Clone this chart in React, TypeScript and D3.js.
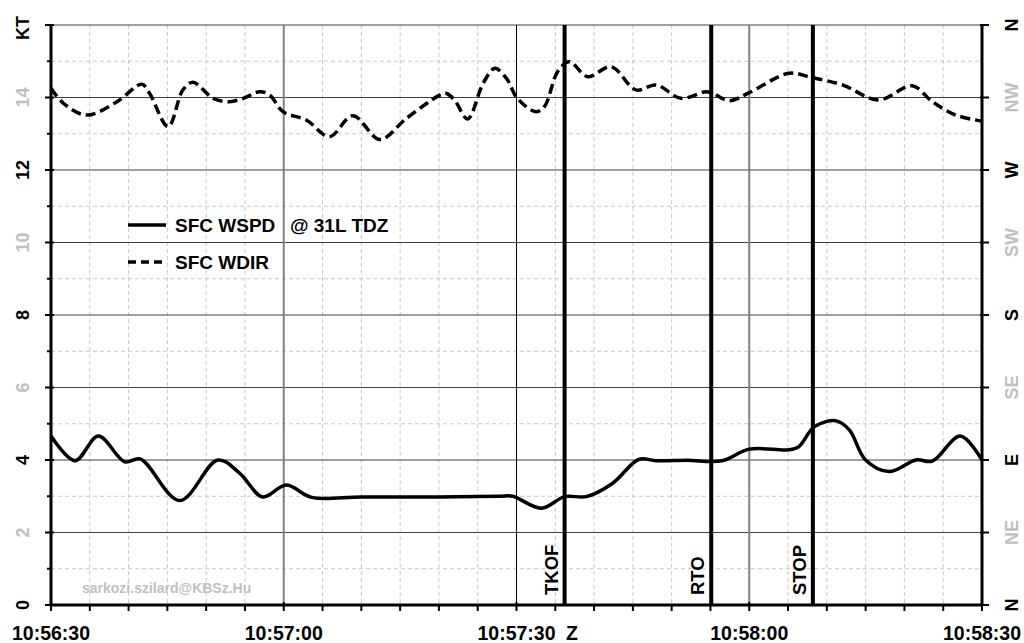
import React from 'react'
import { scaleLinear, line, curveCatmullRom, range } from 'd3'

// seconds after 10:56:30
const speedTimes = [0, 3.1, 6.1, 9.5, 11.5, 16.6, 21.5, 24.3, 27.3, 30.3, 33.6, 40, 50, 57.8, 59.5, 63.2, 66.2, 69, 72.4, 75.8, 78, 82, 86.5, 90, 95.1, 96.4, 98.4, 101.2, 102.9, 105, 108, 111.5, 113.6, 117.2, 120]
const speedKt = [4.66, 3.98, 4.66, 3.95, 4.03, 2.88, 4.0, 3.64, 2.98, 3.31, 2.97, 2.98, 2.98, 3.0, 3.0, 2.67, 2.99, 2.99, 3.36, 4.02, 3.98, 3.99, 3.98, 4.3, 4.28, 4.37, 4.92, 5.08, 4.83, 4.0, 3.68, 4.0, 3.97, 4.66, 4.0]

const dirTimes = [0, 1.6, 4.6, 8.5, 11.7, 12.7, 15.1, 17, 18.3, 20.9, 23, 24.8, 26.9, 28.2, 29.9, 32.9, 35.9, 38.9, 42.4, 45.8, 50.1, 50.9, 52, 53.7, 55.7, 57.2, 58.7, 60.1, 62.5, 63.6, 65.3, 66.8, 69.2, 72.2, 75.4, 78, 81.2, 84.4, 85.3, 87.4, 90, 95.1, 98.1, 102, 106.7, 111, 113.6, 116.6, 120]
const dirDeg = [320.7, 311.4, 304.1, 312.4, 323.2, 317.6, 296.9, 319.7, 324.4, 314.5, 312.4, 314.5, 318.6, 316.5, 306.2, 301, 290.7, 303.7, 289, 302, 316.5, 317.6, 313.5, 301.7, 323.8, 333.1, 326.9, 314.5, 306.2, 309.3, 331, 337.2, 327.9, 334.1, 319.7, 322.8, 314.5, 318.6, 317.6, 313, 318, 330, 327.3, 322.8, 313.5, 322.3, 312.4, 304.1, 300.4]

const timeLabels = ['10:56:30', '10:57:00', '10:57:30', '10:58:00', '10:58:30']
const ktLabels = ['0', '2', '4', '6', '8', '10', '12', '14']
const dirLabels = ['N', 'NE', 'E', 'SE', 'S', 'SW', 'W', 'NW', 'N']

const eventNames = ['TKOF', 'RTO', 'STOP']
const eventTimes = [66.2, 85.1, 98.2]

const W = 1024
const H = 643
const left = 51
const right = 982
const top = 25
const bottom = 605
const font = 'Liberation Sans, Arial, sans-serif'

export default function App() {
  const x = scaleLinear().domain([0, 120]).range([left, right])
  const y = scaleLinear().domain([0, 16]).range([bottom, top])
  const yDir = scaleLinear().domain([0, 360]).range([bottom, top])

  const speedLine = line<number>()
    .x((_, i) => x(speedTimes[i]))
    .y(d => y(d))
    .curve(curveCatmullRom.alpha(0.5))
  const dirLine = line<number>()
    .x((_, i) => x(dirTimes[i]))
    .y(d => yDir(d))
    .curve(curveCatmullRom.alpha(0.5))

  const minorX = range(0, 121, 5)
  const majorX = [0, 30, 60, 90, 120]
  const ktTicks = range(0, 17, 1)

  return (
    <svg width={W} height={H} style={{ position: 'fixed', left: 0, top: 0, background: '#fff' }} fontFamily={font}>
      <rect width={W} height={H} fill="#fff" />

      {/* minor grid */}
      {minorX.filter(t => t % 30 !== 0).map(t => (
        <line key={'vx' + t} x1={x(t)} x2={x(t)} y1={top} y2={bottom} stroke="#c8c8c8" strokeDasharray="4,3" />
      ))}
      {ktTicks.filter(k => k % 2 === 1).map(k => (
        <line key={'hy' + k} x1={left} x2={right} y1={y(k)} y2={y(k)} stroke="#c8c8c8" strokeDasharray="4,3" />
      ))}
      {/* major grid */}
      {ktTicks.filter(k => k % 2 === 0 && k > 0).map(k => (
        <line key={'hm' + k} x1={left} x2={right} y1={y(k)} y2={y(k)} stroke="#404040" strokeWidth={1} />
      ))}
      {[30, 90].map(t => (
        <line key={'vm' + t} x1={x(t)} x2={x(t)} y1={top} y2={bottom} stroke="#808080" strokeWidth={2} />
      ))}
      <line x1={x(60)} x2={x(60)} y1={top} y2={bottom} stroke="#000" strokeWidth={1} />

      {/* watermark */}
      <text x={82} y={593} fontSize={14} fontWeight="bold" fill="#c0c0c0">sarkozi.szilard@KBSz.Hu</text>

      {/* series */}
      <path d={dirLine(dirDeg) || ''} fill="none" stroke="#000" strokeWidth={3.5} strokeDasharray="10,5" />
      <path d={speedLine(speedKt) || ''} fill="none" stroke="#000" strokeWidth={3.5} />

      {/* events */}
      {eventNames.map((n, i) => (
        <g key={n}>
          <line x1={x(eventTimes[i])} x2={x(eventTimes[i])} y1={top} y2={bottom} stroke="#000" strokeWidth={4} />
          <text transform={`translate(${x(eventTimes[i]) - 7},595) rotate(-90)`} fontSize={18.5} fontWeight="bold">{n}</text>
        </g>
      ))}

      {/* axes */}
      <line x1={left} x2={left} y1={top} y2={bottom + 1} stroke="#000" strokeWidth={3} />
      <line x1={right} x2={right} y1={top} y2={bottom + 1} stroke="#000" strokeWidth={3} />
      <line x1={left - 1} x2={right + 1} y1={bottom} y2={bottom} stroke="#000" strokeWidth={3} />
      {ktTicks.map(k => (
        <line key={'lt' + k} x1={left - (k % 2 === 0 ? 6 : 4)} x2={left + (k % 2 === 0 ? 3 : 0)} y1={y(k)} y2={y(k)} stroke="#000" strokeWidth={2} />
      ))}
      {ktTicks.filter(k => k % 2 === 0).map(k => (
        <line key={'rt' + k} x1={right - 2} x2={right + 7} y1={y(k)} y2={y(k)} stroke="#000" strokeWidth={2} />
      ))}
      {minorX.map(t => (
        <line key={'bt' + t} x1={x(t)} x2={x(t)} y1={bottom - (t % 30 === 0 ? 3 : 0)} y2={bottom + 6} stroke="#000" strokeWidth={2} />
      ))}

      {/* left labels */}
      {ktLabels.map((l, i) => (
        <text key={'ll' + i} transform={`translate(29,${y(+l)}) rotate(-90)`} textAnchor="middle" fontSize={18} fontWeight="bold" fill={i % 2 === 0 ? '#000' : '#c0c0c0'}>{l}</text>
      ))}
      <text transform={`translate(29,${top + 3}) rotate(-90)`} textAnchor="middle" fontSize={18} fontWeight="bold">KT</text>

      {/* right labels */}
      {dirLabels.map((l, i) => (
        <text key={'rl' + i} transform={`translate(1018,${yDir(i * 45)}) rotate(-90)`} textAnchor="middle" fontSize={18} fontWeight="bold" fill={i % 2 === 0 ? '#000' : '#c0c0c0'}>{l}</text>
      ))}

      {/* bottom labels */}
      {timeLabels.map((l, i) => (
        <text key={'tl' + i} x={x(majorX[i])} y={640} textAnchor="middle" fontSize={19.5} fontWeight="bold">{l}</text>
      ))}
      <text x={572} y={640} textAnchor="middle" fontSize={19.5} fontWeight="bold">Z</text>

      {/* legend */}
      <line x1={128} x2={166} y1={225} y2={225} stroke="#000" strokeWidth={3.5} />
      <text x={175} y={232} fontSize={19} fontWeight="bold">SFC WSPD</text>
      <text x={290} y={232} fontSize={19} fontWeight="bold">@ 31L TDZ</text>
      <line x1={128} x2={166} y1={262} y2={262} stroke="#000" strokeWidth={3.5} strokeDasharray="8,5" />
      <text x={175} y={269} fontSize={19} fontWeight="bold">SFC WDIR</text>
    </svg>
  )
}
